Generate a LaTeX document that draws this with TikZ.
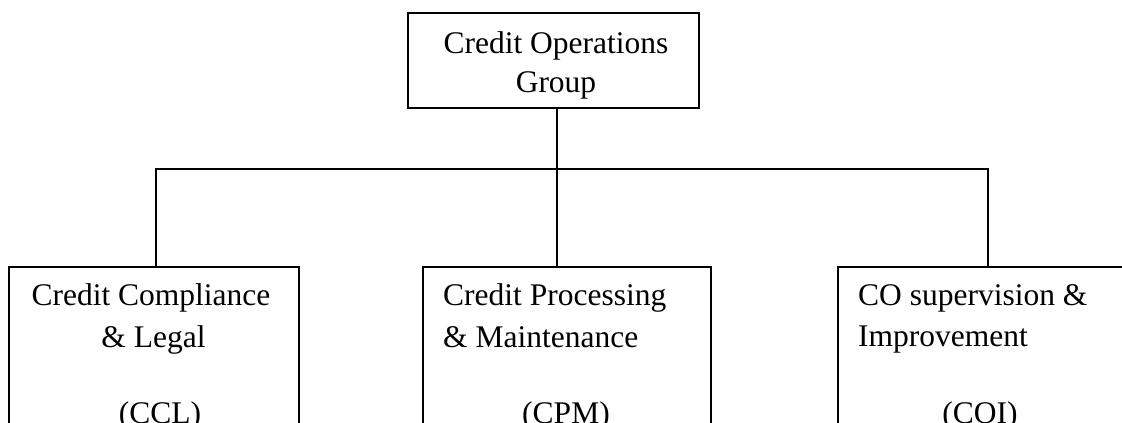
\documentclass[tikz,border=0pt]{standalone}
\usepackage{fontspec}
\setmainfont{Liberation Serif}
\begin{document}
\begin{tikzpicture}[x=1pt,y=-1pt,
  box/.style={draw, line width=1.6pt, rectangle, inner sep=0pt, anchor=north west},
  lbl/.style={font=\fontsize{31.5}{38}\selectfont, inner sep=0pt},
  conn/.style={line width=1.6pt}]
\useasboundingbox (0,0) rectangle (1122,423);
\clip (0,0) rectangle (1122,423);
% boxes
\node[box, minimum width=291pt, minimum height=95pt] (cog) at (407,12) {};
\node[box, minimum width=290pt, minimum height=220pt] (ccl) at (8,266) {};
\node[box, minimum width=288pt, minimum height=220pt] (cpm) at (422,266) {};
\node[box, minimum width=288pt, minimum height=220pt] (coi) at (837,266) {};
% texts
\node[lbl, anchor=base] (cogA) at (556,53) {Credit Operations};
\node[lbl, anchor=base] (cogB) at (556,92) {Group};
\node[lbl, anchor=base] (cclA) at (151,305) {Credit Compliance};
\node[lbl, anchor=base] (cclB) at (153.5,347) {\&\ Legal};
\node[lbl, anchor=base] (cclC) at (160,423) {(CCL)};
\node[lbl, anchor=base west] (cpmA) at (443,305) {Credit Processing};
\node[lbl, anchor=base west] (cpmB) at (443,347) {\&\ Maintenance};
\node[lbl, anchor=base] (cpmC) at (566,423) {(CPM)};
\node[lbl, anchor=base west] (coiA) at (858,305) {CO supervision \&};
\node[lbl, anchor=base west] (coiB) at (858,346) {Improvement};
\node[lbl, anchor=base] (coiC) at (980,423) {(COI)};
% connectors
\coordinate (jl) at (156,169);
\coordinate (jm) at (557,169);
\coordinate (jr) at (988,169);
\draw[conn] (cog.south -| jm) -- (cpm.north -| jm);
\draw[conn] (ccl.north -| jl) -- (jl) -- (jr) -- (coi.north -| jr);
\end{tikzpicture}
\end{document}
